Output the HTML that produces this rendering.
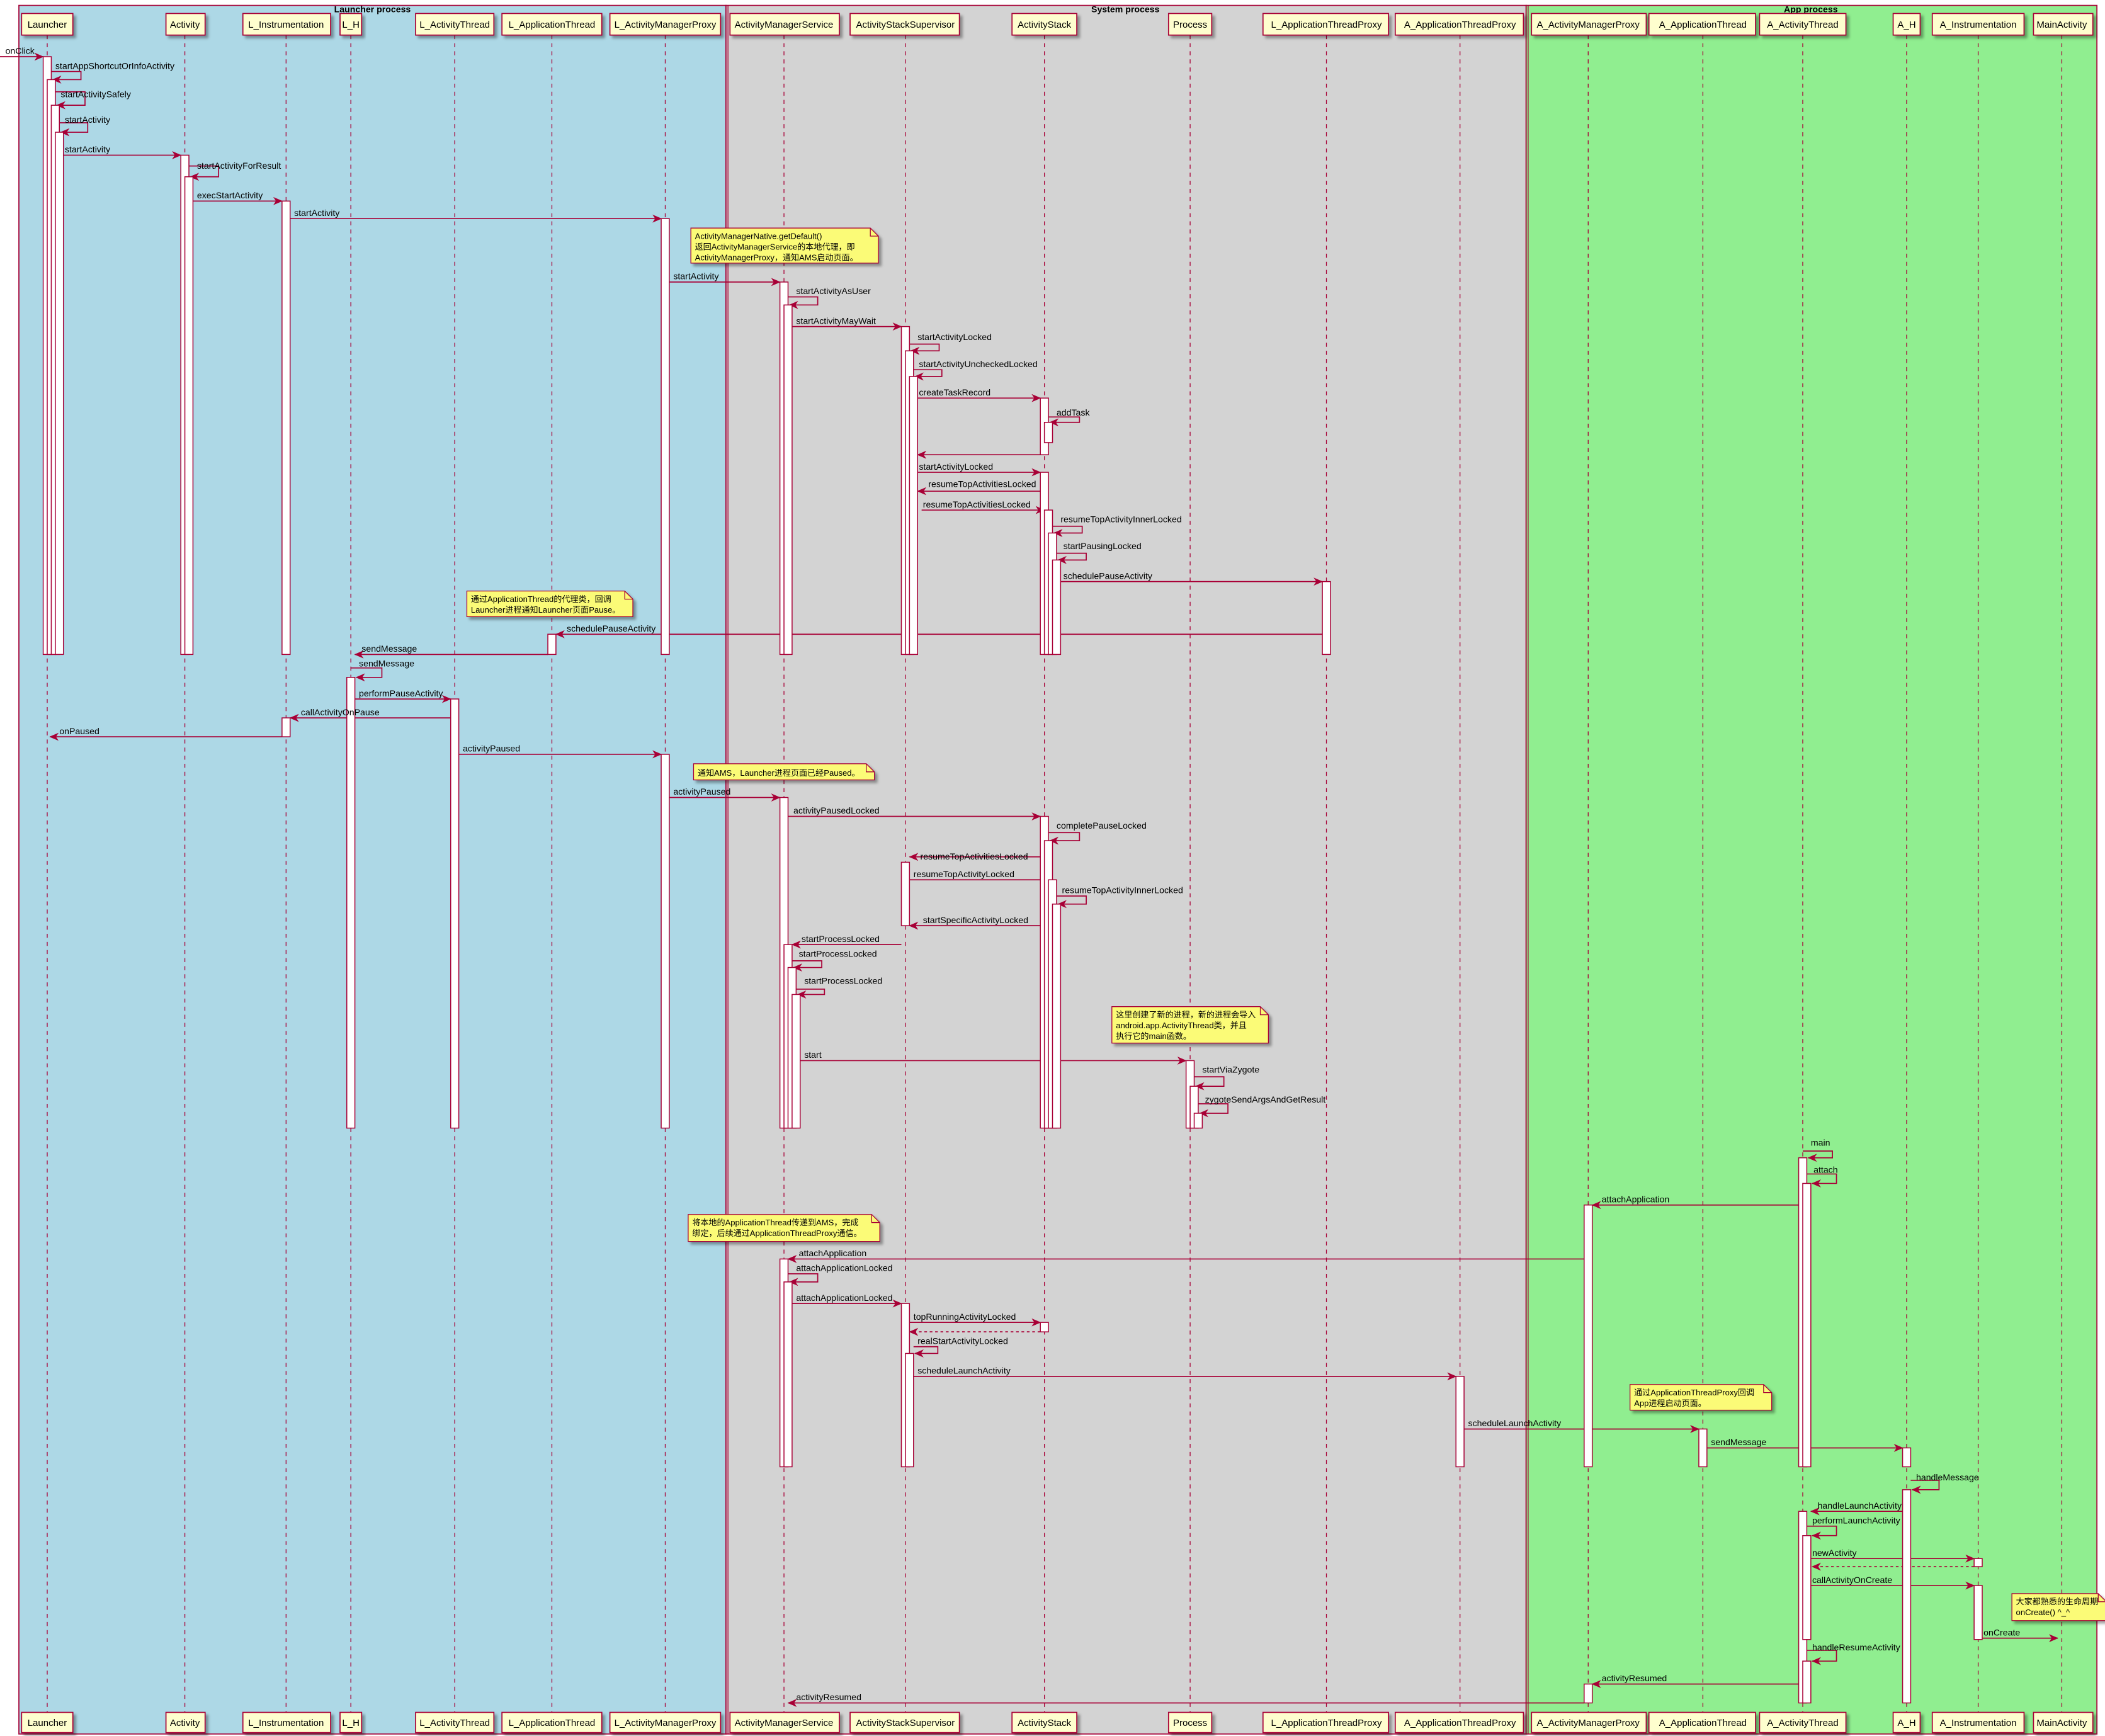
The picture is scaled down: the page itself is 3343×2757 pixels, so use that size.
<!DOCTYPE html>
<html><head><meta charset="utf-8"><style>
html,body{margin:0;padding:0;background:#fff}
svg{display:block}
text{font-family:"Liberation Sans","Noto Sans CJK SC",sans-serif;font-size:6.6px;fill:#000}
.p{font-size:7px}
.t{font-weight:bold;font-size:6.6px}
.nt text{font-size:6.1px}
.l{stroke:#A80036;stroke-width:0.6;stroke-dasharray:3,3;fill:none}
.m{stroke:#A80036;stroke-width:0.8;fill:none;marker-end:url(#a)}
.d{stroke:#A80036;stroke-width:0.8;fill:none;marker-end:url(#a);stroke-dasharray:2,2}
.b{fill:#fff;stroke:#A80036;stroke-width:0.7}
.box{fill:#FEFECE;stroke:#A80036;stroke-width:0.8;filter:url(#sh)}
.n{fill:#FBFB77;stroke:#A80036;stroke-width:0.6;filter:url(#sh)}
</style></head><body>
<svg width="3343" height="2757" viewBox="0 0 1560 1286.5" preserveAspectRatio="none" xmlns="http://www.w3.org/2000/svg">
<defs>
<marker id="a" markerWidth="7" markerHeight="6" refX="6.5" refY="3" orient="auto" markerUnits="userSpaceOnUse"><path d="M0,0 L7,3 L0,6 L2,3 z" fill="#A80036"/></marker>
<filter id="sh" x="-10%" y="-10%" width="130%" height="150%"><feDropShadow dx="2" dy="2" stdDeviation="1" flood-color="#000" flood-opacity="0.35"/></filter>
</defs>
<rect width="1560" height="1287" fill="#fff"/>
<rect x="14" y="4" width="524" height="1281" fill="#ADD8E6" stroke="#A80036" stroke-width="0.8"/>
<rect x="538" y="4" width="593" height="1281" fill="#D3D3D3" stroke="#A80036" stroke-width="0.8"/>
<rect x="1131" y="4" width="423" height="1281" fill="#90EE90" stroke="#A80036" stroke-width="0.8"/>
<line x1="539.5" y1="4" x2="539.5" y2="1285" stroke="#A80036" stroke-width="0.6"/>
<line x1="1132.5" y1="4" x2="1132.5" y2="1285" stroke="#A80036" stroke-width="0.6"/>
<text class="t" x="276" y="9" text-anchor="middle">Launcher process</text>
<text class="t" x="834" y="9" text-anchor="middle">System process</text>
<text class="t" x="1342" y="9" text-anchor="middle">App process</text>

<g class="l">
<line x1="35" y1="26" x2="35" y2="1269"/><line x1="137" y1="26" x2="137" y2="1269"/>
<line x1="212" y1="26" x2="212" y2="1269"/><line x1="260" y1="26" x2="260" y2="1269"/>
<line x1="337" y1="26" x2="337" y2="1269"/><line x1="409" y1="26" x2="409" y2="1269"/>
<line x1="493" y1="26" x2="493" y2="1269"/><line x1="581" y1="26" x2="581" y2="1269"/>
<line x1="671" y1="26" x2="671" y2="1269"/><line x1="774" y1="26" x2="774" y2="1269"/>
<line x1="882" y1="26" x2="882" y2="1269"/><line x1="983" y1="26" x2="983" y2="1269"/>
<line x1="1082" y1="26" x2="1082" y2="1269"/><line x1="1177" y1="26" x2="1177" y2="1269"/>
<line x1="1262" y1="26" x2="1262" y2="1269"/><line x1="1336" y1="26" x2="1336" y2="1269"/>
<line x1="1413" y1="26" x2="1413" y2="1269"/><line x1="1466" y1="26" x2="1466" y2="1269"/>
<line x1="1528" y1="26" x2="1528" y2="1269"/>
</g>

<g>
<rect class="box" x="16" y="10" width="38" height="16"/><rect class="box" x="16" y="1269" width="38" height="15"/>
<rect class="box" x="123" y="10" width="29" height="16"/><rect class="box" x="123" y="1269" width="29" height="15"/>
<rect class="box" x="180" y="10" width="65" height="16"/><rect class="box" x="180" y="1269" width="65" height="15"/>
<rect class="box" x="252" y="10" width="16" height="16"/><rect class="box" x="252" y="1269" width="16" height="15"/>
<rect class="box" x="308" y="10" width="58" height="16"/><rect class="box" x="308" y="1269" width="58" height="15"/>
<rect class="box" x="372" y="10" width="74" height="16"/><rect class="box" x="372" y="1269" width="74" height="15"/>
<rect class="box" x="452" y="10" width="82" height="16"/><rect class="box" x="452" y="1269" width="82" height="15"/>
<rect class="box" x="541" y="10" width="81" height="16"/><rect class="box" x="541" y="1269" width="81" height="15"/>
<rect class="box" x="630" y="10" width="81" height="16"/><rect class="box" x="630" y="1269" width="81" height="15"/>
<rect class="box" x="750" y="10" width="48" height="16"/><rect class="box" x="750" y="1269" width="48" height="15"/>
<rect class="box" x="866" y="10" width="32" height="16"/><rect class="box" x="866" y="1269" width="32" height="15"/>
<rect class="box" x="936" y="10" width="93" height="16"/><rect class="box" x="936" y="1269" width="93" height="15"/>
<rect class="box" x="1034" y="10" width="95" height="16"/><rect class="box" x="1034" y="1269" width="95" height="15"/>
<rect class="box" x="1135" y="10" width="85" height="16"/><rect class="box" x="1135" y="1269" width="85" height="15"/>
<rect class="box" x="1222" y="10" width="79" height="16"/><rect class="box" x="1222" y="1269" width="79" height="15"/>
<rect class="box" x="1304" y="10" width="64" height="16"/><rect class="box" x="1304" y="1269" width="64" height="15"/>
<rect class="box" x="1403" y="10" width="20" height="16"/><rect class="box" x="1403" y="1269" width="20" height="15"/>
<rect class="box" x="1432" y="10" width="68" height="16"/><rect class="box" x="1432" y="1269" width="68" height="15"/>
<rect class="box" x="1507" y="10" width="44" height="16"/><rect class="box" x="1507" y="1269" width="44" height="15"/>
</g>
<g text-anchor="middle">
<text class="p" x="35" y="20.5">Launcher</text><text class="p" x="35" y="1279">Launcher</text>
<text class="p" x="137" y="20.5">Activity</text><text class="p" x="137" y="1279">Activity</text>
<text class="p" x="212" y="20.5">L_Instrumentation</text><text class="p" x="212" y="1279">L_Instrumentation</text>
<text class="p" x="260" y="20.5">L_H</text><text class="p" x="260" y="1279">L_H</text>
<text class="p" x="337" y="20.5">L_ActivityThread</text><text class="p" x="337" y="1279">L_ActivityThread</text>
<text class="p" x="409" y="20.5">L_ApplicationThread</text><text class="p" x="409" y="1279">L_ApplicationThread</text>
<text class="p" x="493" y="20.5">L_ActivityManagerProxy</text><text class="p" x="493" y="1279">L_ActivityManagerProxy</text>
<text class="p" x="581" y="20.5">ActivityManagerService</text><text class="p" x="581" y="1279">ActivityManagerService</text>
<text class="p" x="671" y="20.5">ActivityStackSupervisor</text><text class="p" x="671" y="1279">ActivityStackSupervisor</text>
<text class="p" x="774" y="20.5">ActivityStack</text><text class="p" x="774" y="1279">ActivityStack</text>
<text class="p" x="882" y="20.5">Process</text><text class="p" x="882" y="1279">Process</text>
<text class="p" x="983" y="20.5">L_ApplicationThreadProxy</text><text class="p" x="983" y="1279">L_ApplicationThreadProxy</text>
<text class="p" x="1082" y="20.5">A_ApplicationThreadProxy</text><text class="p" x="1082" y="1279">A_ApplicationThreadProxy</text>
<text class="p" x="1177" y="20.5">A_ActivityManagerProxy</text><text class="p" x="1177" y="1279">A_ActivityManagerProxy</text>
<text class="p" x="1262" y="20.5">A_ApplicationThread</text><text class="p" x="1262" y="1279">A_ApplicationThread</text>
<text class="p" x="1336" y="20.5">A_ActivityThread</text><text class="p" x="1336" y="1279">A_ActivityThread</text>
<text class="p" x="1413" y="20.5">A_H</text><text class="p" x="1413" y="1279">A_H</text>
<text class="p" x="1466" y="20.5">A_Instrumentation</text><text class="p" x="1466" y="1279">A_Instrumentation</text>
<text class="p" x="1528" y="20.5">MainActivity</text><text class="p" x="1528" y="1279">MainActivity</text>
</g>

<g>
<path class="m" d="M0,42 H32"/>
<path class="m" d="M38,53 H60 V59 H39"/>
<path class="m" d="M41,68 H63 V78 H42"/>
<path class="m" d="M44,91 H65 V98 H45"/>
<path class="m" d="M47,115 H134"/>
<path class="m" d="M140,123 H162 V131 H141"/>
<path class="m" d="M143,149 H209"/>
<path class="m" d="M215,162 H490"/>
<path class="m" d="M496,209 H578"/>
<path class="m" d="M584,220 H606 V226 H585"/>
<path class="m" d="M587,242 H668"/>
<path class="m" d="M674,255 H696 V260 H675"/>
<path class="m" d="M677,274 H698 V279 H678"/>
<path class="m" d="M680,295 H771"/>
<path class="m" d="M777,309 H800 V313 H778"/>
<path class="m" d="M771,337 H680"/>
<path class="m" d="M680,350 H771"/>
<path class="m" d="M771,364 H680"/>
<path class="m" d="M683,378 H774"/>
<path class="m" d="M780,390 H802 V395 H781"/>
<path class="m" d="M783,410 H805 V415 H784"/>
<path class="m" d="M786,431 H980"/>
<path class="m" d="M980,470 H412"/>
<path class="m" d="M406,485 H263"/>
<path class="m" d="M260,495 H283 V502 H264"/>
<path class="m" d="M263,518 H334"/>
<path class="m" d="M334,532 H215"/>
<path class="m" d="M209,546 H37"/>
<path class="m" d="M340,559 H490"/>
<path class="m" d="M496,591 H578"/>
<path class="m" d="M584,605 H771"/>
<path class="m" d="M777,617 H800 V623 H778"/>
<path class="m" d="M774,635 H674"/>
<path class="m" d="M674,652 H777"/>
<path class="m" d="M783,664 H805 V670 H784"/>
<path class="m" d="M780,686 H674"/>
<path class="m" d="M668,700 H587"/>
<path class="m" d="M587,712 H609 V717 H588"/>
<path class="m" d="M590,733 H611 V737 H591"/>
<path class="m" d="M593,786 H879"/>
<path class="m" d="M885,798 H907 V805 H886"/>
<path class="m" d="M888,818 H910 V825 H889"/>
<path class="m" d="M1336,853 H1358 V858 H1340"/>
<path class="m" d="M1339,870 H1361 V877 H1343"/>
<path class="m" d="M1333,893 H1180"/>
<path class="m" d="M1174,933 H584"/>
<path class="m" d="M584,944 H606 V950 H585"/>
<path class="m" d="M587,966 H668"/>
<path class="m" d="M674,980 H771"/>
<path class="d" d="M771,987 H674"/>
<path class="m" d="M677,998 H695 V1003 H678"/>
<path class="m" d="M677,1020 H1079"/>
<path class="m" d="M1085,1059 H1259"/>
<path class="m" d="M1265,1073 H1410"/>
<path class="m" d="M1416,1097 H1437 V1104 H1417"/>
<path class="m" d="M1410,1120 H1342"/>
<path class="m" d="M1339,1131 H1361 V1138 H1343"/>
<path class="m" d="M1342,1155 H1463"/>
<path class="d" d="M1463,1161 H1343"/>
<path class="m" d="M1342,1175 H1463"/>
<path class="m" d="M1469,1214 H1525"/>
<path class="m" d="M1339,1223 H1361 V1231 H1343"/>
<path class="m" d="M1333,1248 H1180"/>
<path class="m" d="M1174,1262 H584"/>
</g>

<g class="b">
<rect x="32" y="42" width="6" height="443"/><rect x="35" y="59" width="6" height="426"/>
<rect x="38" y="78" width="6" height="407"/><rect x="41" y="98" width="6" height="387"/>
<rect x="134" y="115" width="6" height="370"/><rect x="137" y="131" width="6" height="354"/>
<rect x="209" y="149" width="6" height="336"/>
<rect x="490" y="162" width="6" height="323"/>
<rect x="578" y="209" width="6" height="276"/><rect x="581" y="226" width="6" height="259"/>
<rect x="668" y="242" width="6" height="243"/><rect x="671" y="260" width="6" height="225"/><rect x="674" y="279" width="6" height="206"/>
<rect x="771" y="295" width="6" height="42"/><rect x="774" y="313" width="6" height="15"/>
<rect x="771" y="350" width="6" height="135"/><rect x="774" y="378" width="6" height="107"/><rect x="777" y="395" width="6" height="90"/><rect x="780" y="415" width="6" height="70"/>
<rect x="980" y="431" width="6" height="54"/>
<rect x="406" y="470" width="6" height="15"/>
<rect x="257" y="502" width="6" height="334"/>
<rect x="334" y="518" width="6" height="318"/>
<rect x="209" y="532" width="6" height="14"/>
<rect x="490" y="559" width="6" height="277"/>
<rect x="578" y="591" width="6" height="245"/>
<rect x="771" y="605" width="6" height="231"/><rect x="774" y="623" width="6" height="213"/>
<rect x="668" y="639" width="6" height="47"/>
<rect x="777" y="652" width="6" height="184"/><rect x="780" y="670" width="6" height="166"/>
<rect x="581" y="700" width="6" height="136"/><rect x="584" y="717" width="6" height="119"/><rect x="587" y="737" width="6" height="99"/>
<rect x="879" y="786" width="6" height="50"/><rect x="882" y="805" width="6" height="31"/><rect x="885" y="825" width="6" height="11"/>
<rect x="1333" y="858" width="6" height="229"/><rect x="1336" y="877" width="6" height="210"/>
<rect x="1174" y="893" width="6" height="194"/>
<rect x="578" y="933" width="6" height="154"/><rect x="581" y="950" width="6" height="137"/>
<rect x="668" y="966" width="6" height="121"/><rect x="671" y="1003" width="6" height="84"/>
<rect x="771" y="980" width="6" height="7"/>
<rect x="1079" y="1020" width="6" height="67"/>
<rect x="1259" y="1059" width="6" height="28"/>
<rect x="1410" y="1073" width="6" height="14"/>
<rect x="1410" y="1104" width="6" height="158"/>
<rect x="1333" y="1120" width="6" height="142"/><rect x="1336" y="1138" width="6" height="77"/>
<rect x="1463" y="1155" width="6" height="6"/>
<rect x="1463" y="1175" width="6" height="40"/>
<rect x="1336" y="1231" width="6" height="31"/>
<rect x="1174" y="1248" width="6" height="14"/>
</g>

<g>
<text x="4" y="40">onClick</text>
<text x="41" y="51">startAppShortcutOrInfoActivity</text>
<text x="45" y="72">startActivitySafely</text>
<text x="48" y="91">startActivity</text>
<text x="48" y="113">startActivity</text>
<text x="146" y="125">startActivityForResult</text>
<text x="146" y="147">execStartActivity</text>
<text x="218" y="160">startActivity</text>
<text x="499" y="207">startActivity</text>
<text x="590" y="218">startActivityAsUser</text>
<text x="590" y="240">startActivityMayWait</text>
<text x="680" y="252">startActivityLocked</text>
<text x="681" y="272">startActivityUncheckedLocked</text>
<text x="681" y="293">createTaskRecord</text>
<text x="783" y="308">addTask</text>
<text x="681" y="348">startActivityLocked</text>
<text x="688" y="361">resumeTopActivitiesLocked</text>
<text x="684" y="376">resumeTopActivitiesLocked</text>
<text x="786" y="387">resumeTopActivityInnerLocked</text>
<text x="788" y="407">startPausingLocked</text>
<text x="788" y="429">schedulePauseActivity</text>
<text x="420" y="468">schedulePauseActivity</text>
<text x="268" y="483">sendMessage</text>
<text x="266" y="494">sendMessage</text>
<text x="266" y="516">performPauseActivity</text>
<text x="223" y="530">callActivityOnPause</text>
<text x="44" y="544">onPaused</text>
<text x="343" y="557">activityPaused</text>
<text x="499" y="589">activityPaused</text>
<text x="588" y="603">activityPausedLocked</text>
<text x="783" y="614">completePauseLocked</text>
<text x="682" y="637">resumeTopActivitiesLocked</text>
<text x="677" y="650">resumeTopActivityLocked</text>
<text x="787" y="662">resumeTopActivityInnerLocked</text>
<text x="684" y="684">startSpecificActivityLocked</text>
<text x="594" y="698">startProcessLocked</text>
<text x="592" y="709">startProcessLocked</text>
<text x="596" y="729">startProcessLocked</text>
<text x="596" y="784">start</text>
<text x="891" y="795">startViaZygote</text>
<text x="893" y="817">zygoteSendArgsAndGetResult</text>
<text x="1342" y="849">main</text>
<text x="1344" y="869">attach</text>
<text x="1187" y="891">attachApplication</text>
<text x="592" y="931">attachApplication</text>
<text x="590" y="942">attachApplicationLocked</text>
<text x="590" y="964">attachApplicationLocked</text>
<text x="677" y="978">topRunningActivityLocked</text>
<text x="680" y="996">realStartActivityLocked</text>
<text x="680" y="1018">scheduleLaunchActivity</text>
<text x="1088" y="1057">scheduleLaunchActivity</text>
<text x="1268" y="1071">sendMessage</text>
<text x="1420" y="1097">handleMessage</text>
<text x="1347" y="1118">handleLaunchActivity</text>
<text x="1343" y="1129">performLaunchActivity</text>
<text x="1343" y="1153">newActivity</text>
<text x="1343" y="1173">callActivityOnCreate</text>
<text x="1470" y="1212">onCreate</text>
<text x="1343" y="1223">handleResumeActivity</text>
<text x="1187" y="1246">activityResumed</text>
<text x="590" y="1260">activityResumed</text>
</g>

<g class="nt">
<path class="n" d="M512,169 H645 L651,175 V195 H512 Z"/><path d="M645,169 V175 H651" fill="none" stroke="#A80036" stroke-width="0.6"/>
<text x="515" y="177">ActivityManagerNative.getDefault()</text>
<text x="515" y="185">返回ActivityManagerService的本地代理，即</text>
<text x="515" y="193">ActivityManagerProxy，通知AMS启动页面。</text>

<path class="n" d="M346,438 H463 L469,444 V457 H346 Z"/><path d="M463,438 V444 H469" fill="none" stroke="#A80036" stroke-width="0.6"/>
<text x="349" y="446">通过ApplicationThread的代理类，回调</text>
<text x="349" y="454">Launcher进程通知Launcher页面Pause。</text>

<path class="n" d="M514,566 H642 L648,572 V578 H514 Z"/><path d="M642,566 V572 H648" fill="none" stroke="#A80036" stroke-width="0.6"/>
<text x="517" y="575">通知AMS，Launcher进程页面已经Paused。</text>

<path class="n" d="M824,746 H934 L940,752 V773 H824 Z"/><path d="M934,746 V752 H940" fill="none" stroke="#A80036" stroke-width="0.6"/>
<text x="827" y="754">这里创建了新的进程，新的进程会导入</text>
<text x="827" y="762">android.app.ActivityThread类，并且</text>
<text x="827" y="770">执行它的main函数。</text>

<path class="n" d="M510,900 H646 L652,906 V920 H510 Z"/><path d="M646,900 V906 H652" fill="none" stroke="#A80036" stroke-width="0.6"/>
<text x="513" y="908">将本地的ApplicationThread传递到AMS，完成</text>
<text x="513" y="916">绑定，后续通过ApplicationThreadProxy通信。</text>

<path class="n" d="M1208,1026 H1307 L1313,1032 V1045 H1208 Z"/><path d="M1307,1026 V1032 H1313" fill="none" stroke="#A80036" stroke-width="0.6"/>
<text x="1211" y="1034">通过ApplicationThreadProxy回调</text>
<text x="1211" y="1042">App进程启动页面。</text>

<path class="n" d="M1491,1181 H1555 L1561,1187 V1201 H1491 Z"/><path d="M1555,1181 V1187 H1561" fill="none" stroke="#A80036" stroke-width="0.6"/>
<text x="1494" y="1189">大家都熟悉的生命周期</text>
<text x="1494" y="1197">onCreate() ^_^</text>
</g>
</svg>
</body></html>
